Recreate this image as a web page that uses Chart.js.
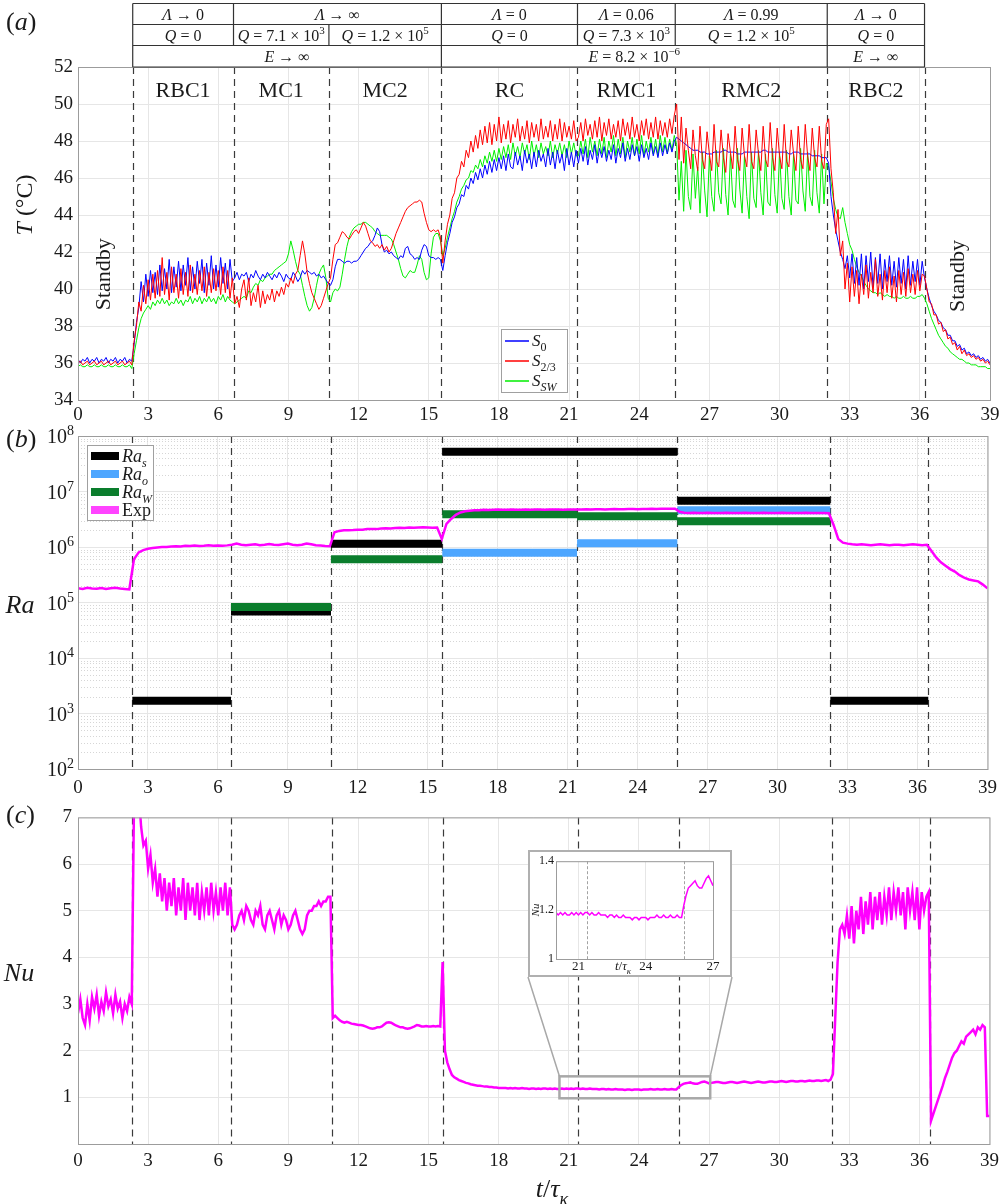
<!DOCTYPE html>
<html>
<head>
<meta charset="utf-8">
<script src="https://cdn.jsdelivr.net/npm/chart.js@4.4.1/dist/chart.umd.min.js"></script>
<style>
  body { margin: 0; background: #fff; }
  #page { position: relative; width: 1005px; height: 1204px; overflow: hidden; }
  .panel { position: absolute; left: 0; }
  #insetBox { position: absolute; left: 528px; top: 850px; width: 204px; height: 127px; box-sizing: border-box; border: 2px solid #b0b0b0; background: #fff; }
  #insetBox canvas { display: block; }
</style>
</head>
<body>
<div id="page">
  <canvas id="chartA" class="panel" style="top:0" width="1005" height="425"></canvas>
  <canvas id="chartB" class="panel" style="top:425px" width="1005" height="375"></canvas>
  <canvas id="chartC" class="panel" style="top:800px" width="1005" height="404"></canvas>
  <div id="insetBox"><canvas id="chartInset" width="200" height="123"></canvas></div>
</div>
<script>
// ---- data ----
const T_STEP = 0.1;   // sampling of the T and Nu records (t/tau_k)
const RA_STEP = 0.2;  // sampling of the Ra record

// regime boundaries (dashed lines)
const cutsA = [2.34, 6.65, 10.73, 15.54, 21.36, 25.54, 32.04, 36.2];
const cutsBC = [2.33, 6.56, 10.85, 15.62, 21.40, 25.70, 32.26, 36.46];
const regimes = ['RBC1', 'MC1', 'MC2', 'RC', 'RMC1', 'RMC2', 'RBC2'];

// header table rows: [from cut, to cut, text parts]
const hdrLambda = [
  [0, 1, [['Λ', 'i'], [' → 0', '']]],
  [1, 3, [['Λ', 'i'], [' → ∞', '']]],
  [3, 4, [['Λ', 'i'], [' = 0', '']]],
  [4, 5, [['Λ', 'i'], [' = 0.06', '']]],
  [5, 6, [['Λ', 'i'], [' = 0.99', '']]],
  [6, 7, [['Λ', 'i'], [' → 0', '']]]
];
const hdrQ = [
  [0, 1, [['Q', 'i'], [' = 0', '']]],
  [1, 2, [['Q', 'i'], [' = 7.1 × 10', ''], ['3', 'sup']]],
  [2, 3, [['Q', 'i'], [' = 1.2 × 10', ''], ['5', 'sup']]],
  [3, 4, [['Q', 'i'], [' = 0', '']]],
  [4, 5, [['Q', 'i'], [' = 7.3 × 10', ''], ['3', 'sup']]],
  [5, 6, [['Q', 'i'], [' = 1.2 × 10', ''], ['5', 'sup']]],
  [6, 7, [['Q', 'i'], [' = 0', '']]]
];
const hdrE = [
  [0, 3, [['E', 'i'], [' → ∞', '']]],
  [3, 6, [['E', 'i'], [' = 8.2 × 10', ''], ['−6', 'sup']]],
  [6, 7, [['E', 'i'], [' → ∞', '']]]
];

// panel (a): temperature of the three sensors, t = i * T_STEP
const tempS0 = [
  36.2, 36.0, 36.2, 36.1, 36.3, 36.0, 36.2, 36.1, 36.3, 36.0, 36.2, 36.1, 36.3, 36.0, 36.2, 36.1, 36.3, 36.0, 36.2, 36.1, 36.3, 36.0, 36.2, 36.1,
  37.0, 38.2, 39.0, 40.4, 39.3, 40.8,
  39.6, 41.0, 39.8, 40.9, 39.7, 41.3, 39.9, 41.1, 40.0, 41.6,
  39.8, 41.2, 40.1, 41.5, 39.9, 41.3, 40.2, 41.7, 39.9, 41.2,
  40.0, 41.5, 40.3, 41.6, 39.8, 41.4, 40.2, 41.8, 40.0, 41.3,
  40.1, 41.7, 40.3, 41.4, 40.0, 41.6, 40.4,
  40.6, 40.9, 40.5, 40.8,
  40.7, 40.9, 40.4, 40.8, 40.6, 41.0, 40.7, 40.5, 40.8, 40.6,
  40.9, 40.7, 40.5, 40.8, 40.6, 40.9, 40.7, 40.4, 40.8, 40.6,
  40.5, 40.9, 40.7, 40.4, 40.6, 41.0, 40.8, 41.0, 40.9, 40.8,
  40.9, 40.7, 40.8, 40.6, 40.7, 40.5, 40.3,
  40.2, 40.5, 41.2, 41.6, 41.6, 41.5, 41.4, 41.5, 41.5, 41.4,
  41.5, 41.5, 41.6, 41.8, 42.0, 42.2, 42.3, 42.5, 42.6, 42.9,
  43.3, 43.1, 42.4, 42.0, 42.1, 41.9, 42.0, 41.8, 41.7, 41.6,
  41.8, 41.7, 42.2, 42.3, 41.9, 41.8, 41.6, 41.7, 41.6, 42.1,
  42.4, 42.3, 41.8, 41.7, 41.7, 41.6, 41.7, 41.6,
  41.0, 41.8, 42.5, 43.0, 43.6, 43.9, 44.4, 44.6, 45.1, 45.0,
  45.6, 45.4, 46.0, 45.7, 46.3, 45.9, 46.5, 46.0, 46.7, 46.2,
  46.9, 46.3, 47.0, 46.4, 47.1, 46.5, 47.2, 46.4, 47.3, 46.6,
  46.5, 47.4, 46.7, 47.2, 46.4, 47.5, 46.8, 47.3, 46.5, 47.4,
  46.6, 47.5, 46.9, 47.3, 46.6, 47.6, 46.7, 47.4, 46.5, 47.5,
  46.8, 47.3, 46.4, 47.6, 46.7, 47.4, 46.6, 47.5,
  46.8, 47.6, 46.9, 47.7, 46.7, 47.5, 47.0, 47.8, 46.8, 47.6,
  47.1, 47.7, 46.9, 47.5, 47.0, 47.8, 46.8, 47.6, 47.1, 47.9,
  46.9, 47.6, 47.0, 47.8, 47.2, 47.7, 46.9, 47.8, 47.1, 47.6,
  47.0, 47.9, 47.2, 47.7, 47.1, 47.9, 47.2, 47.8, 47.3, 47.9,
  47.4, 48.0,
  48.2, 48.1, 48.0, 47.9, 47.8,
  47.7, 47.6, 47.5, 47.5, 47.5, 47.4, 47.4, 47.4, 47.3, 47.3,
  47.3, 47.4, 47.4, 47.4, 47.4, 47.5, 47.5, 47.4, 47.4, 47.4,
  47.4, 47.3, 47.3, 47.3, 47.4, 47.4, 47.4, 47.4, 47.4, 47.4,
  47.4, 47.4, 47.5, 47.5, 47.4, 47.4, 47.4, 47.4, 47.4, 47.4,
  47.4, 47.4, 47.4, 47.3, 47.3, 47.4, 47.4, 47.4, 47.3, 47.3,
  47.3, 47.3, 47.3, 47.2, 47.2, 47.2, 47.2, 47.1, 47.1, 47.1,
  46.8, 45.0, 44.0, 43.2, 42.6, 42.0, 41.6, 41.1, 41.8, 40.6,
  41.9, 40.3, 41.7, 40.2, 41.9, 40.0, 41.8, 40.4, 42.0, 40.1,
  41.7, 40.3, 41.9, 40.0, 41.6, 40.4, 41.8, 40.2, 41.5, 40.1,
  41.7, 40.3, 41.6, 40.0, 41.8, 40.2, 41.5, 40.4, 41.6, 40.2,
  41.5, 40.6,
  40.0, 39.5, 39.1, 38.8, 38.6, 38.3, 38.2,
  37.9, 37.8, 37.5, 37.5, 37.2, 37.2, 36.9, 37.0, 36.7, 36.8,
  36.5, 36.6, 36.4, 36.5, 36.3, 36.4, 36.2, 36.3, 36.1, 36.2,
  36.0
];
const tempS23 = [
  36.0, 36.1, 35.9, 36.0, 36.1, 35.9, 36.0, 36.1, 35.9, 36.0, 36.1, 35.9, 36.0, 36.1, 35.9, 36.0, 36.1, 35.9, 36.0, 36.1, 35.9, 36.0, 36.1, 35.9,
  37.2, 38.0, 39.3, 38.8, 40.2, 39.2,
  40.5, 39.4, 40.8, 39.5, 41.0, 39.6, 41.7, 39.7, 40.9, 39.4,
  41.2, 39.8, 40.8, 39.5, 41.1, 39.7, 40.9, 39.6, 41.3, 39.8,
  40.8, 39.7, 41.0, 39.9, 41.2, 39.6, 40.9, 39.8, 41.1, 39.9,
  41.0, 39.7, 41.2, 39.8, 41.0, 39.5, 40.6,
  39.2, 39.6, 39.0, 40.0,
  40.5, 39.4, 40.6, 39.1, 39.8, 39.3, 40.2, 39.0, 39.9, 39.2,
  39.7, 39.4, 40.0, 39.3, 39.9, 39.6, 40.1, 39.7, 40.3, 40.1,
  40.6, 40.3, 40.8, 41.0, 41.8, 42.6, 41.9, 40.9, 40.3, 39.8,
  39.5, 39.2, 38.9, 39.1, 39.5, 39.9, 40.3,
  40.6, 41.6, 42.4, 42.5, 42.8, 43.1, 43.0, 42.8, 42.7, 42.9,
  43.1, 43.2, 43.0, 43.3, 43.6, 43.4, 43.0, 42.6, 42.5, 42.3,
  42.4, 42.2, 42.4, 42.1, 42.3, 42.0, 42.2, 42.6, 43.0, 43.3,
  43.6, 43.9, 44.2, 44.4, 44.5, 44.6, 44.7, 44.7, 44.8, 44.7,
  44.1, 43.6, 43.2, 43.1, 43.2, 43.1, 43.2, 42.8,
  41.4, 42.6, 43.5, 44.0, 44.9, 45.2, 46.0, 46.2, 46.9, 46.6,
  47.5, 47.1, 48.0, 47.4, 48.3, 47.6, 48.6, 47.8, 48.8, 47.9,
  49.0, 47.8, 48.9, 48.0, 49.3, 47.9, 48.9, 48.1, 49.1, 47.9,
  48.9, 48.2, 49.2, 48.0, 48.8, 48.1, 49.1, 47.9, 49.0, 48.2,
  48.9, 48.0, 49.2, 48.1, 48.8, 48.2, 49.1, 48.0, 48.9, 48.1,
  49.2, 48.0, 49.0, 48.2, 48.8, 48.1, 49.1, 48.0,
  48.2, 49.0, 48.0, 49.2, 48.3, 48.9, 48.1, 49.1, 48.2, 49.3,
  48.0, 49.0, 48.3, 49.2, 48.1, 48.9, 48.2, 49.1, 48.0, 49.2,
  48.3, 49.0, 48.1, 49.3, 48.2, 48.9, 48.0, 49.1, 48.3, 49.2,
  48.1, 49.0, 48.2, 49.3, 48.1, 49.1, 48.3, 49.0, 48.2, 49.2,
  48.4, 49.4,
  50.0, 47.0, 49.3, 46.8, 48.7,
  47.5, 46.5, 48.6, 47.2, 46.4, 48.8, 47.0, 46.5, 48.5, 47.3,
  46.4, 48.9, 46.9, 46.6, 48.6, 47.1, 46.3, 48.4, 47.4, 46.5,
  48.8, 47.0, 46.4, 48.7, 47.2, 46.6, 48.9, 46.9, 46.5, 48.6,
  47.3, 46.4, 48.8, 47.0, 46.6, 49.0, 47.1, 46.4, 48.7, 47.2,
  46.5, 48.9, 46.9, 46.6, 48.6, 47.3, 46.4, 48.8, 47.0, 46.5,
  48.9, 47.2, 46.4, 48.7, 47.1, 46.6, 48.8, 46.9, 46.5, 48.9,
  49.2, 46.5, 45.2, 43.0, 44.3, 41.8, 42.6, 40.0, 41.4, 39.3,
  41.2, 39.6, 41.0, 39.2, 40.8, 39.7, 41.3, 39.5, 40.9, 39.8,
  41.6, 39.6, 40.8, 39.4, 41.0, 39.8, 41.2, 39.5, 40.7, 39.3,
  41.0, 39.7, 40.9, 39.6, 41.1, 39.8, 40.8, 39.7, 41.0, 39.9,
  40.8, 40.7,
  40.0, 39.3, 39.2, 38.6, 38.6, 38.1, 38.2,
  37.7, 37.8, 37.3, 37.4, 37.0, 37.1, 36.7, 36.9, 36.5, 36.7,
  36.4, 36.5, 36.3, 36.4, 36.2, 36.3, 36.1, 36.2, 36.0, 36.1,
  35.9
];
const tempSSW = [
  35.8, 35.9, 35.8, 35.8, 35.9, 35.8, 35.8, 35.9, 35.8, 35.8, 35.9, 35.8, 35.8, 35.9, 35.8, 35.8, 35.9, 35.8, 35.8, 35.9, 35.8, 35.8, 35.9, 35.7,
  36.5, 37.2, 37.9, 38.4, 38.7, 38.9,
  39.1, 38.9, 39.3, 39.1, 39.4, 39.2, 39.5, 39.2, 39.4, 39.1,
  39.3, 39.2, 39.5, 39.2, 39.4, 39.1, 39.4, 39.3, 39.6, 39.2,
  39.5, 39.3, 39.6, 39.2, 39.5, 39.3, 39.6, 39.3, 39.5, 39.2,
  39.6, 39.4, 39.7, 39.3, 39.6, 39.4, 39.3,
  39.2, 39.3, 39.4, 39.5,
  39.6, 39.5, 39.9, 39.8, 40.1, 40.3, 40.2, 40.5, 40.4, 40.6,
  40.7, 40.8, 40.8, 41.0, 41.1, 41.2, 41.3, 41.4, 41.5, 41.9,
  42.6, 42.1, 41.5, 41.0, 40.8, 40.2, 39.6, 39.1, 38.8, 39.0,
  39.5, 40.2, 40.8, 41.1, 41.3, 40.6, 39.5,
  39.3, 39.8, 40.0, 39.9, 40.1, 40.8, 41.6, 42.3, 42.8, 43.1,
  43.3, 43.4, 43.5, 43.5, 43.6, 43.6, 43.5, 43.4, 43.3, 43.1,
  43.0, 42.9, 42.9, 42.9, 42.9, 42.8, 42.7, 42.4, 42.0, 41.6,
  41.1, 40.7, 40.6, 40.8, 41.0, 40.9, 40.9, 41.3, 41.8, 41.6,
  40.9, 40.5, 40.6, 41.9, 42.8, 43.0, 43.0, 42.6,
  41.8, 42.2, 42.8, 43.3, 43.8, 44.2, 44.7, 45.0, 45.4, 45.6,
  45.9, 46.0, 46.4, 46.3, 46.7, 46.5, 47.0, 46.6, 47.2, 46.8,
  47.4, 46.9, 47.5, 46.9, 47.6, 47.0, 47.7, 47.1, 47.8, 47.0,
  47.9, 47.2, 47.7, 47.1, 47.9, 47.3, 47.8, 47.0, 48.0, 47.2,
  47.8, 47.1, 47.9, 47.3, 47.7, 47.2, 48.0, 47.1, 47.8, 47.3,
  47.9, 47.2, 47.8, 47.1, 48.0, 47.3, 47.9, 47.2,
  47.2, 48.0, 47.3, 48.1, 47.1, 48.2, 47.4, 48.0, 47.2, 48.1,
  47.3, 48.2, 47.1, 48.0, 47.4, 48.3, 47.2, 48.1, 47.3, 48.2,
  47.1, 48.0, 47.4, 48.2, 47.2, 48.1, 47.3, 48.3, 47.2, 48.0,
  47.4, 48.2, 47.3, 48.1, 47.2, 48.3, 47.4, 48.2, 47.3, 48.1,
  47.5, 48.3,
  47.8, 44.8, 46.9, 44.2, 47.5,
  45.0, 44.3, 47.3, 44.9, 46.6, 44.1, 47.4, 45.3, 43.9, 47.2,
  45.0, 44.2, 47.5, 45.2, 44.6, 47.6, 45.1, 44.0, 47.3, 44.8,
  44.4, 47.6, 45.4, 44.1, 47.2, 45.0, 43.8, 47.4, 44.9, 44.4,
  47.5, 45.2, 44.0, 47.3, 44.7, 44.5, 47.6, 45.1, 44.1, 47.4,
  44.9, 44.3, 47.5, 45.0, 44.0, 47.3, 44.8, 44.6, 47.6, 45.3,
  44.2, 47.4, 45.0, 44.5, 47.5, 45.2, 44.1, 47.3, 44.6, 46.8,
  46.6, 45.8, 44.9, 44.3, 43.9, 43.8, 44.4, 43.6, 43.0, 42.4,
  42.1, 41.6, 41.2, 40.9, 40.7, 40.4, 40.2, 40.0, 39.9, 39.8,
  39.8, 39.7, 39.8, 39.7, 39.6, 39.7, 39.6, 39.6, 39.5, 39.6,
  39.5, 39.5, 39.6, 39.5, 39.5, 39.6, 39.5, 39.5, 39.6, 39.6,
  39.7, 39.5,
  39.2, 38.8, 38.4, 38.1, 37.8, 37.5, 37.3,
  37.1, 36.9, 36.8, 36.6, 36.5, 36.4, 36.3, 36.2, 36.2, 36.1,
  36.0, 36.0, 35.9, 35.9, 35.9, 35.8, 35.8, 35.8, 35.8, 35.7,
  35.7
];

// panel (b): Rayleigh numbers, one value per regime (between successive cuts)
const raDecades = [1e2, 1e3, 1e4, 1e5, 1e6, 1e7, 1e8];
const raMinor = [2, 3, 4, 5, 6, 7, 8, 9];
const raS = [1.7e3, 6.9e4, 1.15e6, 5.2e7, 5.2e7, 6.8e6, 1.7e3];
const raO = [null, null, null, 7.9e5, 1.17e6, 4.6e6, null];
const raW = [null, 8.3e4, 6.0e5, 3.9e6, 3.6e6, 2.9e6, null];
// measured Ra, t = i * RA_STEP
const raExp = [
  1.80e5, 1.76e5, 1.84e5, 1.79e5, 1.77e5, 1.83e5, 1.76e5, 1.81e5, 1.84e5, 1.78e5, 1.75e5, 1.72e5,
  6.0e5, 8.0e5, 8.8e5, 9.3e5, 9.6e5, 9.8e5, 1.0e6, 1.0e6, 1.02e6, 1.03e6, 1.02e6,
  1.05e6, 1.04e6, 1.06e6, 1.04e6, 1.05e6, 1.07e6, 1.05e6, 1.06e6, 1.05e6, 1.07e6, 1.1e6,
  1.15e6, 1.10e6, 1.08e6, 1.10e6, 1.12e6, 1.08e6, 1.10e6, 1.13e6, 1.10e6, 1.09e6, 1.12e6,
  1.15e6, 1.10e6, 1.08e6, 1.10e6, 1.16e6, 1.12e6, 1.08e6, 1.06e6, 1.04e6, 1.03e6,
  1.85e6, 1.95e6, 2.0e6, 2.0e6, 2.02e6, 2.05e6, 2.05e6, 2.1e6, 2.12e6, 2.1e6, 2.15e6, 2.18e6,
  2.15e6, 2.2e6, 2.22e6, 2.2e6, 2.25e6, 2.22e6, 2.25e6, 2.28e6, 2.25e6, 2.22e6, 2.25e6,
  1.4e6, 2.6e6, 3.2e6, 3.8e6, 4.2e6, 4.4e6, 4.5e6, 4.6e6,
  4.6e6, 4.7e6, 4.65e6, 4.7e6, 4.72e6, 4.68e6, 4.7e6, 4.75e6, 4.7e6, 4.68e6,
  4.72e6, 4.7e6, 4.75e6, 4.72e6, 4.7e6, 4.74e6, 4.76e6, 4.72e6, 4.7e6, 4.74e6,
  4.76e6, 4.75e6, 4.72e6, 4.78e6, 4.75e6, 4.8e6, 4.77e6, 4.75e6, 4.8e6, 4.82e6,
  4.8e6, 4.78e6, 4.82e6, 4.85e6, 4.8e6, 4.83e6, 4.85e6, 4.88e6, 4.85e6, 4.9e6,
  4.88e6, 4.9e6, 4.9e6,
  4.3e6, 4.15e6, 4.1e6, 4.12e6, 4.08e6, 4.1e6, 4.12e6, 4.1e6, 4.08e6, 4.1e6,
  4.12e6, 4.1e6, 4.08e6, 4.1e6, 4.13e6, 4.1e6, 4.08e6, 4.1e6, 4.12e6, 4.1e6,
  4.08e6, 4.1e6, 4.12e6, 4.1e6, 4.1e6, 4.08e6, 4.1e6, 4.12e6, 4.1e6, 4.08e6,
  4.1e6, 4.1e6, 4.05e6,
  2.5e6, 1.4e6, 1.2e6, 1.15e6, 1.12e6, 1.1e6, 1.12e6, 1.1e6, 1.08e6, 1.1e6, 1.12e6,
  1.1e6, 1.08e6, 1.1e6, 1.1e6, 1.08e6, 1.1e6, 1.12e6, 1.1e6, 1.08e6, 1.1e6,
  8.5e5, 6.5e5, 5.3e5, 4.6e5, 4.0e5, 3.6e5, 3.1e5, 2.8e5, 2.6e5, 2.5e5, 2.4e5, 2.1e5, 1.8e5
];

// panel (c): Nusselt number, t = i * T_STEP
const nuExp = [
  2.8, 3.1, 2.7, 2.55, 3.0, 2.65, 3.15, 2.9, 3.2, 2.75,
  3.05, 2.85, 3.25, 2.95, 3.1, 2.8, 3.2, 2.9, 3.05, 2.7,
  3.0, 2.85, 3.15, 3.0,
  7.5, 7.5, 7.5, 6.8, 6.4, 6.5,
  5.9, 6.2, 5.6, 5.9, 5.3, 5.8, 5.2, 5.7, 5.0, 5.6,
  5.1, 5.7, 4.9, 5.5, 5.0, 5.7, 4.8, 5.6, 5.0, 5.5,
  4.9, 5.6, 4.8, 5.4, 5.0, 5.5, 4.9, 5.6, 5.0, 5.4,
  4.9, 5.5, 5.0, 5.6, 4.9, 5.5, 4.7,
  4.6, 4.7, 4.9, 5.0,
  4.8, 5.1, 5.0, 4.8, 4.7, 5.0, 4.9, 5.1, 4.7, 4.6,
  4.9, 5.0, 4.8, 4.6, 4.9, 5.0, 4.7, 4.9, 4.8, 4.6,
  4.7, 4.9, 5.0, 4.8, 4.6, 4.5, 4.6, 4.9, 5.0, 5.0,
  5.1, 5.1, 5.2, 5.1, 5.2, 5.2, 5.3,
  5.3, 2.7, 2.75, 2.7, 2.65, 2.62, 2.6, 2.62, 2.6, 2.58,
  2.57, 2.56, 2.55, 2.55, 2.54, 2.52, 2.5, 2.48, 2.47, 2.48,
  2.5, 2.5, 2.52, 2.56, 2.6, 2.61, 2.6, 2.57, 2.54, 2.52,
  2.5, 2.5, 2.48, 2.47, 2.48, 2.5, 2.52, 2.55, 2.54, 2.52,
  2.52, 2.53, 2.52, 2.52, 2.53, 2.52, 2.53, 2.52,
  3.9, 2.0, 1.75, 1.6, 1.48, 1.43, 1.4, 1.37, 1.35, 1.33,
  1.31, 1.3, 1.28, 1.27, 1.26, 1.25, 1.25, 1.24, 1.23, 1.23,
  1.22, 1.22, 1.21, 1.21, 1.2, 1.2, 1.2, 1.2, 1.19, 1.2,
  1.19, 1.2, 1.19, 1.19, 1.2, 1.19, 1.19, 1.18, 1.19, 1.19,
  1.18, 1.19, 1.18, 1.19, 1.19, 1.18, 1.19, 1.18, 1.19, 1.18,
  1.18, 1.19, 1.18, 1.19, 1.18, 1.19, 1.18, 1.19,
  1.19, 1.18, 1.19, 1.18, 1.18, 1.19, 1.18, 1.18, 1.18, 1.17,
  1.18, 1.18, 1.17, 1.18, 1.17, 1.17, 1.18, 1.17, 1.17, 1.17,
  1.16, 1.17, 1.17, 1.16, 1.17, 1.17, 1.17, 1.16, 1.17, 1.17,
  1.17, 1.18, 1.17, 1.17, 1.18, 1.17, 1.17, 1.18, 1.17, 1.17,
  1.18, 1.17,
  1.17, 1.22, 1.26, 1.29, 1.30,
  1.31, 1.32, 1.30, 1.29, 1.29, 1.31, 1.33, 1.34, 1.32, 1.30,
  1.31, 1.32, 1.33, 1.33, 1.32, 1.31, 1.31, 1.32, 1.33, 1.33,
  1.32, 1.31, 1.32, 1.33, 1.34, 1.33, 1.32, 1.31, 1.32, 1.33,
  1.34, 1.33, 1.32, 1.32, 1.33, 1.34, 1.34, 1.33, 1.33, 1.34,
  1.35, 1.34, 1.33, 1.34, 1.35, 1.35, 1.34, 1.34, 1.35, 1.35,
  1.34, 1.35, 1.36, 1.35, 1.35, 1.36, 1.36, 1.35, 1.36, 1.37,
  1.35, 1.38, 1.5, 2.7, 3.9, 4.6, 4.7, 4.5, 4.9, 4.4,
  5.1, 4.3, 5.0, 4.6, 5.3, 4.5, 5.2, 4.7, 5.4, 4.6,
  5.3, 4.8, 5.4, 4.7, 5.3, 4.9, 5.5, 4.8, 5.4, 5.0,
  5.5, 4.9, 5.4, 4.6, 5.5, 5.0, 5.4, 4.8, 5.5, 4.6,
  5.4, 5.0,
  5.3, 5.4, 0.5, 0.65, 0.8, 0.95, 1.1,
  1.25, 1.42, 1.55, 1.7, 1.85, 1.95, 2.0, 2.1, 2.2, 2.15,
  2.3, 2.35, 2.4, 2.45, 2.35, 2.5, 2.45, 2.55, 2.5, 0.6,
  0.6
];
const zoomT = [20.6, 27.05];
const zoomNu = [0.98, 1.45];

// ---- drawing helpers ----
const SERIF = '"Liberation Serif", "Times New Roman", serif';
const INK = '#1a1a1a';
const GRID = '#e6e6e6';
const FRAME = '#9c9c9c';

function pts(arr, step) {
  return arr.map((v, i) => ({ x: +(i * step).toFixed(2), y: v }));
}

function steps(vals, cuts) {
  const out = [];
  vals.forEach((v, k) => {
    if (v === null) return;
    out.push({ x: cuts[k], y: v }, { x: cuts[k + 1], y: v }, { x: cuts[k + 1], y: null });
  });
  return out;
}

function fontOf(size, st) {
  const small = st.includes('sub') || st.includes('sup');
  return (st.includes('i') ? 'italic ' : '') + (small ? Math.round(size * 0.68) : size) + 'px ' + SERIF;
}

// text made of parts: '' normal, 'i' italic, 'sub'/'isub' subscript, 'sup' superscript
function rich(ctx, parts, x, y, size, align) {
  let w = 0;
  parts.forEach(([t, st]) => { ctx.font = fontOf(size, st); w += ctx.measureText(t).width; });
  let cx = align === 'center' ? x - w / 2 : (align === 'right' ? x - w : x);
  ctx.textAlign = 'left';
  ctx.textBaseline = 'alphabetic';
  parts.forEach(([t, st]) => {
    ctx.font = fontOf(size, st);
    const dy = st.includes('sub') ? size * 0.3 : (st.includes('sup') ? -size * 0.4 : 0);
    ctx.fillText(t, cx, y + dy);
    cx += ctx.measureText(t).width;
  });
}

function dashedCuts(ctx, area, xs, cuts, color, dash, width) {
  ctx.save();
  ctx.strokeStyle = color || '#3a3a3a';
  ctx.lineWidth = width || 1.2;
  ctx.setLineDash(dash || [7, 5]);
  cuts.forEach(c => {
    const px = Math.round(xs.getPixelForValue(c)) + 0.5;
    if (px < area.left || px > area.right) return;
    ctx.beginPath();
    ctx.moveTo(px, area.top);
    ctx.lineTo(px, area.bottom);
    ctx.stroke();
  });
  ctx.restore();
}

function frame(ctx, area) {
  ctx.save();
  ctx.strokeStyle = FRAME;
  ctx.lineWidth = 1;
  ctx.strokeRect(area.left + 0.5, area.top + 0.5, area.width, area.height);
  ctx.restore();
}

function panelTag(ctx, letter, x, y) {
  ctx.save();
  ctx.fillStyle = INK;
  rich(ctx, [['(', ''], [letter, 'i'], [')', '']], x, y, 26, 'left');
  ctx.restore();
}

function xScale(pad, height) {
  return {
    type: 'linear', min: 0, max: 39,
    ticks: { stepSize: 3, color: INK, font: { family: SERIF, size: 19 }, padding: pad, maxRotation: 0, autoSkip: false },
    grid: { color: GRID, drawTicks: false },
    border: { display: false },
    afterFit: s => { s.height = height; }
  };
}

function baseOptions() {
  return {
    responsive: false,
    animation: false,
    events: [],
    plugins: { legend: { display: false }, tooltip: { enabled: false } },
    elements: { point: { radius: 0 }, line: { tension: 0 } }
  };
}

// ---- panel (a) ----
const decoA = {
  id: 'decoA',
  beforeDatasetsDraw(chart) {
    dashedCuts(chart.ctx, chart.chartArea, chart.scales.x, cutsA);
  },
  afterDraw(chart) {
    const { ctx, chartArea: a, scales: { x, y } } = chart;
    frame(ctx, a);
    const px = cutsA.map(c => x.getPixelForValue(c));
    ctx.save();
    ctx.fillStyle = INK;
    // regime names
    ctx.font = '22px ' + SERIF;
    ctx.textAlign = 'center';
    ctx.textBaseline = 'alphabetic';
    regimes.forEach((r, k) => ctx.fillText(r, (px[k] + px[k + 1]) / 2, a.top + 30));
    // standby labels
    [[1.1, 40.8], [37.65, 40.7]].forEach(([t, T]) => {
      ctx.save();
      ctx.translate(x.getPixelForValue(t), y.getPixelForValue(T));
      ctx.rotate(-Math.PI / 2);
      ctx.font = '22px ' + SERIF;
      ctx.textAlign = 'center';
      ctx.textBaseline = 'middle';
      ctx.fillText('Standby', 0, 0);
      ctx.restore();
    });
    // header table
    const rowsY = [3.5, 24.5, 45.5, a.top];
    ctx.strokeStyle = '#333';
    ctx.lineWidth = 1.2;
    ctx.beginPath();
    rowsY.forEach(ry => { ctx.moveTo(px[0], ry); ctx.lineTo(px[7], ry); });
    [hdrLambda, hdrQ, hdrE].forEach((row, r) => {
      row.forEach(([c0, c1]) => {
        [c0, c1].forEach(c => { ctx.moveTo(px[c], rowsY[r]); ctx.lineTo(px[c], rowsY[r + 1]); });
      });
    });
    ctx.stroke();
    [hdrLambda, hdrQ, hdrE].forEach((row, r) => {
      row.forEach(([c0, c1, parts]) => rich(ctx, parts, (px[c0] + px[c1]) / 2, rowsY[r] + 16, 16, 'center'));
    });
    // legend
    const lx = 501, ly = 329, lw = 66, lh = 63;
    ctx.fillStyle = '#fff';
    ctx.fillRect(lx, ly, lw, lh);
    ctx.strokeStyle = '#a0a0a0';
    ctx.lineWidth = 1;
    ctx.strokeRect(lx + 0.5, ly + 0.5, lw, lh);
    const items = [
      ['#0000ff', [['S', 'i'], ['0', 'sub']]],
      ['#ff0000', [['S', 'i'], ['2/3', 'sub']]],
      ['#00ee00', [['S', 'i'], ['SW', 'isub']]]
    ];
    items.forEach(([col, parts], k) => {
      const yy = ly + 12 + k * 20;
      ctx.strokeStyle = col;
      ctx.lineWidth = 1.5;
      ctx.beginPath(); ctx.moveTo(lx + 4, yy); ctx.lineTo(lx + 28, yy); ctx.stroke();
      ctx.fillStyle = INK;
      rich(ctx, parts, lx + 31, yy + 5, 17, 'left');
    });
    // axis title and tag
    ctx.save();
    ctx.translate(24, 205);
    ctx.rotate(-Math.PI / 2);
    rich(ctx, [['T', 'i'], [' (°C)', '']], 0, 8, 24, 'center');
    ctx.restore();
    panelTag(ctx, 'a', 6, 30);
    ctx.restore();
  }
};

new Chart(document.getElementById('chartA'), {
  type: 'line',
  data: {
    datasets: [
      { label: 'S0', data: pts(tempS0, T_STEP), borderColor: '#0000ff', borderWidth: 1, order: 1 },
      { label: 'S2/3', data: pts(tempS23, T_STEP), borderColor: '#ff0000', borderWidth: 1, order: 0 },
      { label: 'SSW', data: pts(tempSSW, T_STEP), borderColor: '#00ee00', borderWidth: 1, order: 2 }
    ]
  },
  options: Object.assign(baseOptions(), {
    layout: { padding: { top: 67, right: 15, left: 0, bottom: 0 } },
    scales: {
      x: xScale(4, 25),
      y: {
        min: 34, max: 52,
        ticks: { stepSize: 2, color: INK, font: { family: SERIF, size: 19 }, padding: 5 },
        grid: { color: GRID, drawTicks: false },
        border: { display: false },
        afterFit: s => { s.width = 78; }
      }
    }
  }),
  plugins: [decoA]
});

// ---- panel (b) ----
const decoB = {
  id: 'decoB',
  beforeDatasetsDraw(chart) {
    const { ctx, chartArea: a, scales: { x, y } } = chart;
    ctx.save();
    ctx.strokeStyle = '#d6d6d6';
    ctx.lineWidth = 1;
    ctx.setLineDash([1, 2]);
    raDecades.slice(0, -1).forEach(d => {
      raMinor.forEach(m => {
        const py = Math.round(y.getPixelForValue(m * d)) + 0.5;
        ctx.beginPath(); ctx.moveTo(a.left, py); ctx.lineTo(a.right, py); ctx.stroke();
      });
    });
    ctx.restore();
    dashedCuts(ctx, a, x, cutsBC);
  },
  afterDraw(chart) {
    const { ctx, chartArea: a, scales: { y } } = chart;
    frame(ctx, a);
    ctx.save();
    ctx.fillStyle = INK;
    raDecades.forEach(v => {
      rich(ctx, [['10', ''], [String(Math.round(Math.log10(v))), 'sup']], a.left - 4, y.getPixelForValue(v) + 7, 20, 'right');
    });
    // legend
    const lx = 87, ly = 20, lw = 66, lh = 75;
    ctx.fillStyle = '#fff';
    ctx.fillRect(lx, ly, lw, lh);
    ctx.strokeStyle = '#a0a0a0';
    ctx.lineWidth = 1;
    ctx.strokeRect(lx + 0.5, ly + 0.5, lw, lh);
    const items = [
      ['#000000', [['Ra', 'i'], ['s', 'isub']]],
      ['#4da6ff', [['Ra', 'i'], ['o', 'isub']]],
      ['#0a7d2c', [['Ra', 'i'], ['W', 'isub']]],
      ['#ff44ff', [['Exp', '']]]
    ];
    items.forEach(([col, parts], k) => {
      const yy = ly + 11 + k * 18;
      ctx.fillStyle = col;
      ctx.fillRect(lx + 4, yy - 4, 28, 8);
      ctx.fillStyle = INK;
      rich(ctx, parts, lx + 35, yy + 6, 18, 'left');
    });
    rich(ctx, [['Ra', 'i']], 20, 188, 26, 'center');
    panelTag(ctx, 'b', 6, 22);
    ctx.restore();
  }
};

new Chart(document.getElementById('chartB'), {
  type: 'line',
  data: {
    datasets: [
      { label: 'Ra_s', data: steps(raS, cutsBC), borderColor: '#000000', borderWidth: 8, borderCapStyle: 'butt', order: 3 },
      { label: 'Ra_o', data: steps(raO, cutsBC), borderColor: '#4da6ff', borderWidth: 8, borderCapStyle: 'butt', order: 2 },
      { label: 'Ra_W', data: steps(raW, cutsBC), borderColor: '#0a7d2c', borderWidth: 8, borderCapStyle: 'butt', order: 1 },
      { label: 'Exp', data: pts(raExp, RA_STEP), borderColor: '#ff00ff', borderWidth: 2.5, order: 0 }
    ]
  },
  options: Object.assign(baseOptions(), {
    layout: { padding: { top: 11, right: 15, left: 0, bottom: 0 } },
    scales: {
      x: xScale(8, 31),
      y: {
        type: 'logarithmic', min: 1e2, max: 1e8,
        afterBuildTicks: s => { s.ticks = raDecades.map(v => ({ value: v })); },
        ticks: { display: false },
        grid: { color: GRID, drawTicks: false },
        border: { display: false },
        afterFit: s => { s.width = 78; }
      }
    }
  }),
  plugins: [decoB]
});

// ---- panel (c) ----
const INSET = { left: 528, top: 850, width: 204, height: 127 };
const C_TOP = 800;

const decoC = {
  id: 'decoC',
  beforeDatasetsDraw(chart) {
    dashedCuts(chart.ctx, chart.chartArea, chart.scales.x, cutsBC);
  },
  afterDatasetsDraw(chart) {
    const { ctx, scales: { x, y } } = chart;
    const x0 = x.getPixelForValue(zoomT[0]), x1 = x.getPixelForValue(zoomT[1]);
    const y0 = y.getPixelForValue(zoomNu[1]), y1 = y.getPixelForValue(zoomNu[0]);
    const by = INSET.top + INSET.height - C_TOP;
    ctx.save();
    ctx.strokeStyle = '#a8a8a8';
    ctx.lineWidth = 1.5;
    ctx.beginPath();
    ctx.moveTo(x0, y0); ctx.lineTo(INSET.left, by);
    ctx.moveTo(x1, y0); ctx.lineTo(INSET.left + INSET.width, by);
    ctx.stroke();
    ctx.lineWidth = 2.5;
    ctx.strokeRect(x0, y0, x1 - x0, y1 - y0);
    ctx.restore();
  },
  afterDraw(chart) {
    const { ctx, chartArea: a } = chart;
    frame(ctx, a);
    ctx.save();
    ctx.fillStyle = INK;
    rich(ctx, [['Nu', 'i']], 19, 181, 26, 'center');
    rich(ctx, [['t', 'i'], ['/', ''], ['τ', 'i'], ['κ', 'isub']], 552, 397, 26, 'center');
    panelTag(ctx, 'c', 6, 23);
    ctx.restore();
  }
};

new Chart(document.getElementById('chartC'), {
  type: 'line',
  data: {
    datasets: [
      { label: 'Nu', data: pts(nuExp, T_STEP), borderColor: '#ff00ff', borderWidth: 2.5 }
    ]
  },
  options: Object.assign(baseOptions(), {
    layout: { padding: { top: 11, right: 15, left: 0, bottom: 0 } },
    scales: {
      x: xScale(6, 60),
      y: {
        min: 0, max: 7,
        ticks: { stepSize: 1, color: INK, font: { family: SERIF, size: 19 }, padding: 6, callback: v => (v === 0 ? '' : v) },
        grid: { color: GRID, drawTicks: false },
        border: { display: false },
        afterFit: s => { s.width = 78; }
      }
    }
  }),
  plugins: [decoC]
});

// ---- inset of panel (c) ----
const decoInset = {
  id: 'decoInset',
  beforeDatasetsDraw(chart) {
    dashedCuts(chart.ctx, chart.chartArea, chart.scales.x, cutsBC, '#8a8a8a', [3, 2], 0.8);
  },
  afterDraw(chart) {
    const { ctx, chartArea: a } = chart;
    frame(ctx, a);
    ctx.save();
    ctx.fillStyle = INK;
    rich(ctx, [['t', 'i'], ['/', ''], ['τ', 'i'], ['κ', 'isub']], 93, 118, 13, 'center');
    ctx.translate(6, 58);
    ctx.rotate(-Math.PI / 2);
    rich(ctx, [['Nu', 'i']], 0, 3, 11, 'center');
    ctx.restore();
  }
};

new Chart(document.getElementById('chartInset'), {
  type: 'line',
  data: {
    datasets: [
      { label: 'Nu', data: pts(nuExp, T_STEP), borderColor: '#ff00ff', borderWidth: 1.5 }
    ]
  },
  options: Object.assign(baseOptions(), {
    layout: { padding: { top: 8, right: 17, left: 0, bottom: 0 } },
    scales: {
      x: {
        type: 'linear', min: 20, max: 27,
        afterBuildTicks: s => { s.ticks = [21, 24, 27].map(v => ({ value: v })); },
        ticks: { color: INK, font: { family: SERIF, size: 13 }, padding: 0, maxRotation: 0, autoSkip: false },
        grid: { color: GRID, drawTicks: false },
        border: { display: false },
        afterFit: s => { s.height = 16; }
      },
      y: {
        min: 1, max: 1.4,
        afterBuildTicks: s => { s.ticks = [1, 1.2, 1.4].map(v => ({ value: v })); },
        ticks: { color: INK, font: { family: SERIF, size: 12 }, padding: 2, callback: v => (v === 1 ? '1' : v.toFixed(1)) },
        grid: { color: GRID, drawTicks: false },
        border: { display: false },
        afterFit: s => { s.width = 26; }
      }
    }
  }),
  plugins: [decoInset]
});
</script>
</body>
</html>
